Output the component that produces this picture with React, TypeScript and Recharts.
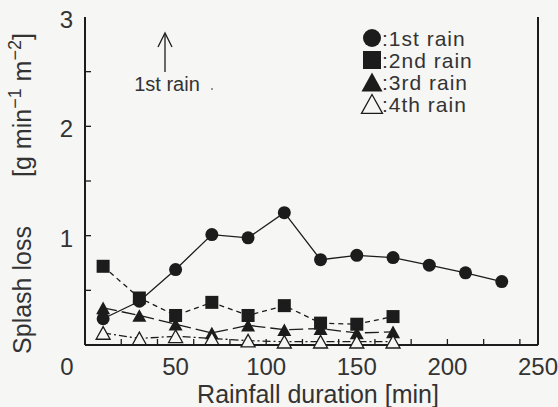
import React from 'react';
import { LineChart, Line, XAxis, YAxis, Legend, Customized } from 'recharts';

const durations = [10, 30, 50, 70, 90, 110, 130, 150, 170, 190, 210, 230];
const rain1 = [0.24, 0.40, 0.69, 1.01, 0.98, 1.21, 0.78, 0.82, 0.80, 0.73, 0.66, 0.58];
const rain2 = [0.72, 0.43, 0.27, 0.39, 0.27, 0.36, 0.20, 0.19, 0.26];
const rain3 = [0.34, 0.27, 0.19, 0.11, 0.18, 0.14, 0.15, 0.11, 0.12];
const rain4 = [0.11, 0.06, 0.08, 0.06, 0.04, 0.03, 0.03, 0.03, 0.03];

const seriesNames = ['1st rain', '2nd rain', '3rd rain', '4th rain'];
const xLabelTicks = [0, 50, 100, 150, 200, 250];
const xMinorTicks = [20, 40, 60, 80, 100, 120, 140, 160, 180, 200, 220, 240];
const yTicks = [0, 0.5, 1, 1.5, 2, 2.5, 3];
const yLabelTicks = [1, 2, 3];

const data = durations.map((d, i) => ({
  t: d,
  r1: rain1[i],
  r2: rain2[i],
  r3: rain3[i],
  r4: rain4[i],
}));

const INK = '#1c1c1c';
const TEXT = '#333333';
const BG = '#f6f6f4';
const FONT = '"Liberation Sans", Arial, Helvetica, sans-serif';

const bottomTickValues = Array.from(new Set([...xLabelTicks, ...xMinorTicks])).sort((a, b) => a - b);

function BottomTick(props: any) {
  const { x, y, payload } = props;
  const v = payload.value;
  const showLine = xMinorTicks.includes(v);
  const showLabel = xLabelTicks.includes(v);
  return (
    <g>
      {showLine && <line x1={x} x2={x} y1={y} y2={y - 6} stroke={INK} strokeWidth={1.3} />}
      {showLabel && (
        <text x={v === 0 ? x - 18 : x} y={y + 30} textAnchor="middle" fontSize={24} fill={TEXT} fontFamily={FONT}>
          {v}
        </text>
      )}
    </g>
  );
}

function TopTick(props: any) {
  const { x, y } = props;
  return <line x1={x} x2={x} y1={y} y2={y + 6} stroke={INK} strokeWidth={1.3} />;
}

function LeftTick(props: any) {
  const { x, y, payload } = props;
  const v = payload.value;
  return (
    <g>
      {v > 0 && v < 3 && <line x1={x} x2={x + 6} y1={y} y2={y} stroke={INK} strokeWidth={1.3} />}
      {yLabelTicks.includes(v) && (
        <text x={x - 12} y={y + 11} textAnchor="end" fontSize={24} fill={TEXT} fontFamily={FONT}>
          {v}
        </text>
      )}
    </g>
  );
}

function Circle({ cx, cy, r }: any) {
  return <circle cx={cx} cy={cy} r={r} fill={INK} />;
}
function Square({ cx, cy, s }: any) {
  return <rect x={cx - s / 2} y={cy - s / 2} width={s} height={s} fill={INK} />;
}
function Tri({ cx, cy, s, open }: any) {
  const h = s * 0.9;
  const pts = `${cx},${cy - h / 2} ${cx - s / 2},${cy + h / 2} ${cx + s / 2},${cy + h / 2}`;
  return open ? (
    <polygon points={pts} fill={BG} stroke={INK} strokeWidth={1.3} />
  ) : (
    <polygon points={pts} fill={INK} />
  );
}

const dot1 = (p: any) =>
  p.cy == null ? <g key={p.key} /> : <g key={p.key}><Circle cx={p.cx} cy={p.cy} r={6.5} /></g>;
const dot2 = (p: any) =>
  p.cy == null ? <g key={p.key} /> : <g key={p.key}><Square cx={p.cx} cy={p.cy} s={13} /></g>;
const dot3 = (p: any) =>
  p.cy == null ? <g key={p.key} /> : <g key={p.key}><Tri cx={p.cx} cy={p.cy} s={14} /></g>;
const dot4 = (p: any) =>
  p.cy == null ? <g key={p.key} /> : <g key={p.key}><Tri cx={p.cx} cy={p.cy} s={14} open /></g>;

function LegendContent() {
  const rowsY = [11, 33, 55, 77];
  return (
    <svg width={140} height={95} style={{ overflow: 'visible' }}>
      {seriesNames.map((name, i) => {
        const cy = rowsY[i];
        let sym;
        if (i === 0) sym = <Circle cx={11} cy={cy} r={9} />;
        else if (i === 1) sym = <Square cx={11} cy={cy} s={18} />;
        else if (i === 2) sym = <Tri cx={11} cy={cy} s={21} />;
        else sym = <Tri cx={11} cy={cy} s={21} open />;
        return (
          <g key={name}>
            {sym}
            <text x={21} y={cy + 7.5} fontSize={21} letterSpacing={1} fill={TEXT} fontFamily={FONT}>
              {':' + name}
            </text>
          </g>
        );
      })}
    </svg>
  );
}

function Annotations() {
  return (
    <g>
      <line x1={165} x2={165} y1={72} y2={34} stroke={INK} strokeWidth={1.3} />
      <polyline points="158,47 165,33 172,47" fill="none" stroke={INK} strokeWidth={1.3} />
      <text x={167} y={91} textAnchor="middle" fontSize={20} fill={TEXT} fontFamily={FONT}>
        1st rain
      </text>
      <circle cx={212} cy={89} r={1} fill="#777" />
      <text x={318} y={403} textAnchor="middle" fontSize={25} fill={TEXT} fontFamily={FONT}>
        Rainfall duration [min]
      </text>
      <text
        x={31}
        y={290}
        textAnchor="middle"
        fontSize={25}
        fill={TEXT}
        fontFamily={FONT}
        transform="rotate(-90, 31, 290)"
      >
        Splash loss
      </text>
      <text
        x={31}
        y={105}
        textAnchor="middle"
        fontSize={25}
        fill={TEXT}
        fontFamily={FONT}
        transform="rotate(-90, 31, 105)"
      >
        [g min
        <tspan fontSize={18} dy={-10}>−1</tspan>
        <tspan dy={10}> m</tspan>
        <tspan fontSize={18} dy={-10}>−2</tspan>
        <tspan dy={10}>]</tspan>
      </text>
    </g>
  );
}

export default function App() {
  return (
    <div style={{ position: 'absolute', left: 0, top: 0, width: 558, height: 407, background: BG }}>
      <LineChart
        width={558}
        height={407}
        data={data}
        margin={{ top: 17, right: 0, bottom: 0, left: 0 }}
      >
        <XAxis
          dataKey="t"
          type="number"
          domain={[0, 250]}
          ticks={bottomTickValues}
          interval={0}
          height={62}
          tickSize={0}
          tickMargin={0}
          tick={<BottomTick />}
          axisLine={{ stroke: INK, strokeWidth: 2 }}
        />
        <XAxis
          xAxisId="top"
          orientation="top"
          dataKey="t"
          type="number"
          domain={[0, 250]}
          ticks={xMinorTicks}
          interval={0}
          height={0}
          tickSize={0}
          tickMargin={0}
          tick={<TopTick />}
          axisLine={{ stroke: INK, strokeWidth: 2 }}
        />
        <YAxis
          type="number"
          domain={[0, 3]}
          ticks={yTicks}
          interval={0}
          width={85}
          tickSize={0}
          tickMargin={0}
          tick={<LeftTick />}
          axisLine={{ stroke: INK, strokeWidth: 2 }}
        />
        <YAxis
          yAxisId="right"
          orientation="right"
          type="number"
          domain={[0, 3]}
          width={20}
          tick={false}
          tickLine={false}
          axisLine={{ stroke: INK, strokeWidth: 2 }}
        />
        <Legend
          layout="vertical"
          align="center"
          verticalAlign="middle"
          content={<LegendContent />}
          wrapperStyle={{ position: 'absolute', left: 361, top: 27, width: 140, height: 95 }}
        />
        <Line dataKey="r1" name={seriesNames[0]} stroke={INK} strokeWidth={1.3} dot={dot1} isAnimationActive={false} />
        <Line dataKey="r2" name={seriesNames[1]} stroke={INK} strokeWidth={1.3} strokeDasharray="5 4" dot={dot2} isAnimationActive={false} />
        <Line dataKey="r3" name={seriesNames[2]} stroke={INK} strokeWidth={1.3} strokeDasharray="14 5" dot={dot3} isAnimationActive={false} />
        <Line dataKey="r4" name={seriesNames[3]} stroke={INK} strokeWidth={1.3} strokeDasharray="8 3 2 3" dot={dot4} isAnimationActive={false} />
        <Customized component={Annotations} />
      </LineChart>
    </div>
  );
}
